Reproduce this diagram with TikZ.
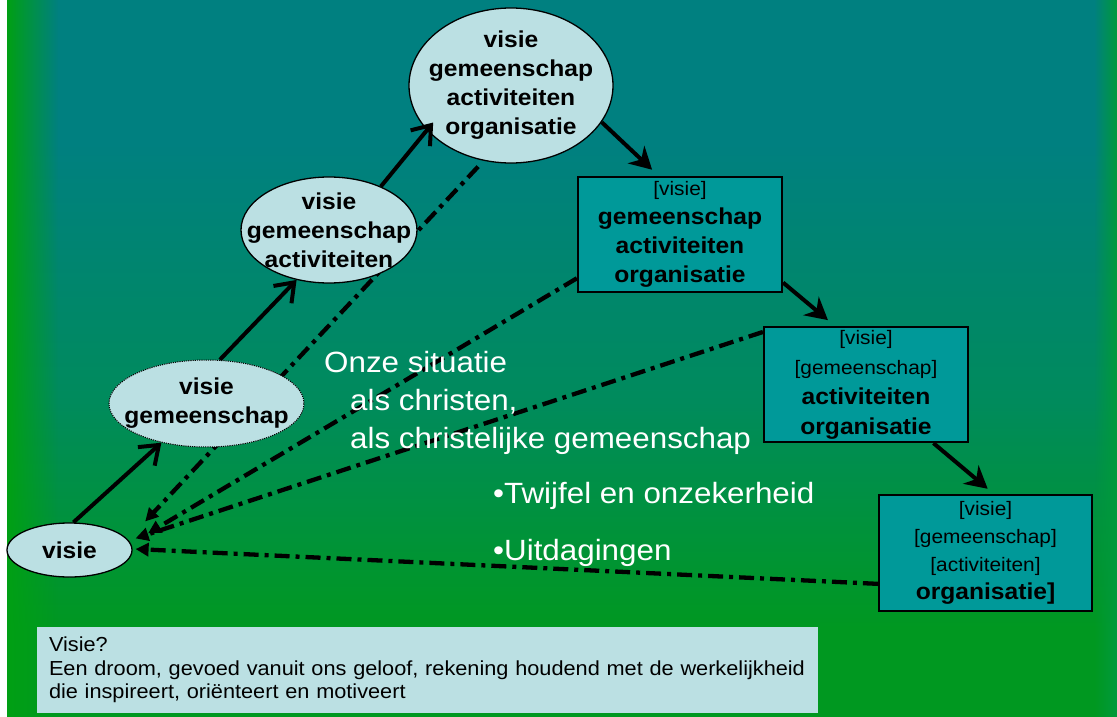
\documentclass[tikz,border=0pt]{standalone}
\usepackage{fontspec}
\setmainfont[FakeStretch=1.07]{Liberation Sans}
\usetikzlibrary{arrows.meta,shapes.geometric,fadings}
\definecolor{bgteal}{RGB}{0,128,128}
\definecolor{bgmid}{RGB}{0,139,92}
\definecolor{bggreen}{RGB}{0,152,32}
\definecolor{edgegreenL}{RGB}{0,160,20}
\definecolor{edgegreenR}{RGB}{0,154,60}
\definecolor{ellfill}{RGB}{187,224,227}
\definecolor{boxfill}{RGB}{0,153,153}
\pgfdeclareverticalshading{bgshade}{100bp}{color(0bp)=(bggreen); color(31bp)=(bggreen); color(47bp)=(bgmid); color(65bp)=(bgteal); color(100bp)=(bgteal)}
\newcommand\rg[1]{{\mdseries\fontsize{19.5}{29}\selectfont #1}}
\begin{document}
\begin{tikzpicture}[x=1pt,y=-1pt,
  ell/.style={ellipse, draw=black, line width=1.3pt, fill=ellfill, inner sep=0pt},
  etext/.style={align=center, inner sep=0pt, font=\bfseries\fontsize{23}{29}\selectfont},
  stagebox/.style={rectangle, draw=black, line width=2.2pt, fill=boxfill, inner sep=0pt, align=center},
  bigtext/.style={anchor=base west, inner sep=0pt, text=white, font=\fontsize{29.3}{35}\selectfont},
  upar/.style={line width=4pt, -{Straight Barb[length=17pt,width=25pt]}},
  downar/.style={line width=4pt, -{Stealth[length=22pt,width=24pt,inset=7pt]}},
  dd/.style={line width=4.3pt, dash pattern=on 15pt off 6pt on 4pt off 6pt, -{Triangle[length=13pt,width=13pt]}}
]
\useasboundingbox (0,0) rectangle (1117,717);
% background
\fill[white] (0,0) rectangle (1117,717);
\shade[shading=bgshade] (7,0) rectangle (1117,717);
\fill[edgegreenL, path fading=east] (7,0) rectangle (58,717);
\fill[edgegreenR, path fading=west] (1094,0) rectangle (1117,717);

% stages
\node[ell, minimum width=125pt, minimum height=54pt] (v1) at (69.5,550) {};
\node[ell, draw=none, minimum width=195pt, minimum height=87pt] (v2) at (206.5,403.5) {};
\node[ell, draw=none, minimum width=176pt, minimum height=106pt] (v3) at (329,230) {};
\node[ell, draw=none, minimum width=204pt, minimum height=155pt] (v4) at (511,85.5) {};
\node[stagebox, minimum width=204pt, minimum height=115pt, font=\bfseries\fontsize{23}{29}\selectfont] (b1) at (680,234.5)
  {\rg{[visie]}\\gemeenschap\\activiteiten\\organisatie};
\node[stagebox, minimum width=204pt, minimum height=115pt, font=\bfseries\fontsize{23}{30}\selectfont] (b2) at (866,384.5)
  {\rg{[visie]}\\\rg{[gemeenschap]}\\activiteiten\\organisatie};
\node[stagebox, minimum width=213pt, minimum height=116pt, font=\bfseries\fontsize{23}{28}\selectfont] (b3) at (985.5,553)
  {\rg{[visie]}\\\rg{[gemeenschap]}\\\rg{[activiteiten]}\\organisatie]};

% dash-dot connectors (behind the ellipses)
\draw[dd, shorten <=8pt, shorten >=25pt] (v4.250) -- (v1.10);
\draw[dd, shorten >=20pt] (b1.203) -- (v1.6);
\draw[dd, shorten >=7pt] (b2.153) -- (v1.9);
\draw[dd, shorten >=3pt] (b3.196) -- (v1.1);

% ellipses on top
\node[ell, line width=1pt, dash pattern=on 1.2pt off 1pt, minimum width=195pt, minimum height=87pt] at (v2) {};
\node[ell, minimum width=176pt, minimum height=106pt] at (v3) {};
\node[ell, minimum width=204pt, minimum height=155pt] at (v4) {};

\node[etext] (t1) at (v1) {visie};
\node[etext] (t2) at (v2) {visie\\gemeenschap};
\node[etext] (t3) at (v3) {visie\\gemeenschap\\activiteiten};
\node[etext] (t4) at (v4) {visie\\gemeenschap\\activiteiten\\organisatie};

% white text
\node[bigtext] (s1) at (324,372) {Onze situatie};
\node[bigtext] (s2) at (350,410) {als christen,};
\node[bigtext] (s3) at (350,448) {als christelijke gemeenschap};
\node[bigtext] (s4) at (493,503) {•Twijfel en onzekerheid};
\node[bigtext] (s5) at (493,560) {•Uitdagingen};

% note box
\node[fill=ellfill, minimum height=86pt, text width=757pt, inner xsep=12pt, inner ysep=0pt, align=left,
  font=\fontsize{20.3}{23.5}\selectfont] (note) at (427.5,670)
  {Visie?\\Een droom, gevoed vanuit ons geloof, rekening houdend met de werkelijkheid\\die inspireert, oriënteert en motiveert};

% solid arrows
\draw[upar] (v1.82) -- (v2.221);
\draw[upar] (v2.73) -- (v3.237);
\draw[upar, shorten >=-10pt] (v3.40) -- (v4.208);
\draw[downar, shorten >=9pt] (v4.-22) -- (b1.110);
\draw[downar, shorten >=9pt] (b1.-25) -- (b2.118);
\draw[downar, shorten >=8pt] (b2.-41.5) -- (b3.82);
\end{tikzpicture}
\end{document}
